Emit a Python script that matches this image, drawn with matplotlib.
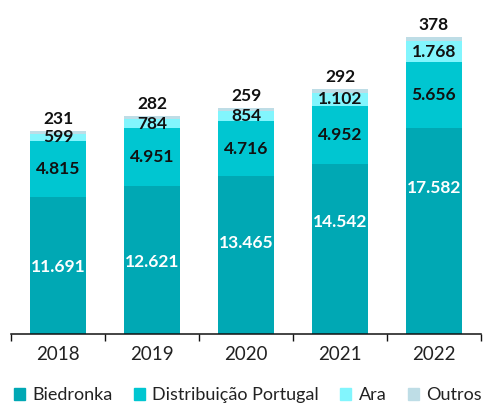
import numpy as np
import matplotlib
matplotlib.use("Agg")
import matplotlib.pyplot as plt
from matplotlib.patches import Patch

plt.rcParams['font.family'] = ['Lato', 'DejaVu Sans']

years = ["2018", "2019", "2020", "2021", "2022"]
biedronka = [11691, 12621, 13465, 14542, 17582]
distribuicao = [4815, 4951, 4716, 4952, 5656]
ara = [599, 784, 854, 1102, 1768]
outros = [231, 282, 259, 292, 378]
series_names = ["Biedronka", "Distribuição Portugal", "Ara", "Outros"]
labels_b = ["11.691", "12.621", "13.465", "14.542", "17.582"]
labels_d = ["4.815", "4.951", "4.716", "4.952", "5.656"]
labels_a = ["599", "784", "854", "1.102", "1.768"]
labels_o = ["231", "282", "259", "292", "378"]
# where the white Biedronka label sits inside its segment (share of height)
label_pos_b = [0.49, 0.49, 0.58, 0.66, 0.71]

colors = ["#00a8b4", "#00c6d1", "#82f5fd", "#bedde6"]

fig = plt.figure(figsize=(4.86, 4.03), dpi=100)
ax = fig.add_axes([11 / 486, 1 - 334 / 403, 470 / 486, 334 / 403])

x = np.arange(len(years))
w = 0.6
b1 = np.array(biedronka)
b2 = b1 + np.array(distribuicao)
b3 = b2 + np.array(ara)
b4 = b3 + np.array(outros)

ax.bar(x, biedronka, w, color=colors[0])
ax.bar(x, distribuicao, w, bottom=b1, color=colors[1])
ax.bar(x, ara, w, bottom=b2, color=colors[2])
ax.bar(x, outros, w, bottom=b3, color=colors[3])

fs = 12.5
for i in range(len(years)):
    ax.text(x[i], b1[i] * label_pos_b[i], labels_b[i], ha="center", va="center",
            color="white", fontsize=fs, fontweight="bold")
    ax.text(x[i], b1[i] + distribuicao[i] / 2, labels_d[i], ha="center", va="center",
            color="#111111", fontsize=fs, fontweight="bold")
    ax.text(x[i], b2[i] + ara[i] / 2, labels_a[i], ha="center", va="center",
            color="#111111", fontsize=fs, fontweight="bold")
    ax.annotate(labels_o[i], (x[i], b4[i]), xytext=(0, 3), textcoords="offset points",
                ha="center", va="bottom", color="#111111", fontsize=fs, fontweight="bold")

ax.set_xlim(-0.5, len(years) - 0.5)
ax.set_ylim(0, 28520)
ax.set_yticks([])
ax.set_xticks(np.arange(-0.5, len(years)), labels=[])
ax.set_xticks(x, labels=years, minor=True)
ax.tick_params(axis="x", which="major", length=5, width=1, color="#111111")
ax.tick_params(axis="x", which="minor", length=0, labelsize=13.5, labelcolor="#222222", pad=9)
for s in ["top", "left", "right"]:
    ax.spines[s].set_visible(False)
ax.spines["bottom"].set_linewidth(1.1)
ax.spines["bottom"].set_color("#111111")

handles = [Patch(color=c) for c in colors]
fig.legend(handles, series_names, loc="lower left", bbox_to_anchor=(0.025, -0.005),
           ncol=4, frameon=False, fontsize=13, handlelength=0.6, handleheight=0.6,
           handletextpad=0.4, columnspacing=1.2, labelcolor="#222222", borderaxespad=0,
           borderpad=0.1)

fig.savefig("out.png", dpi=100)
